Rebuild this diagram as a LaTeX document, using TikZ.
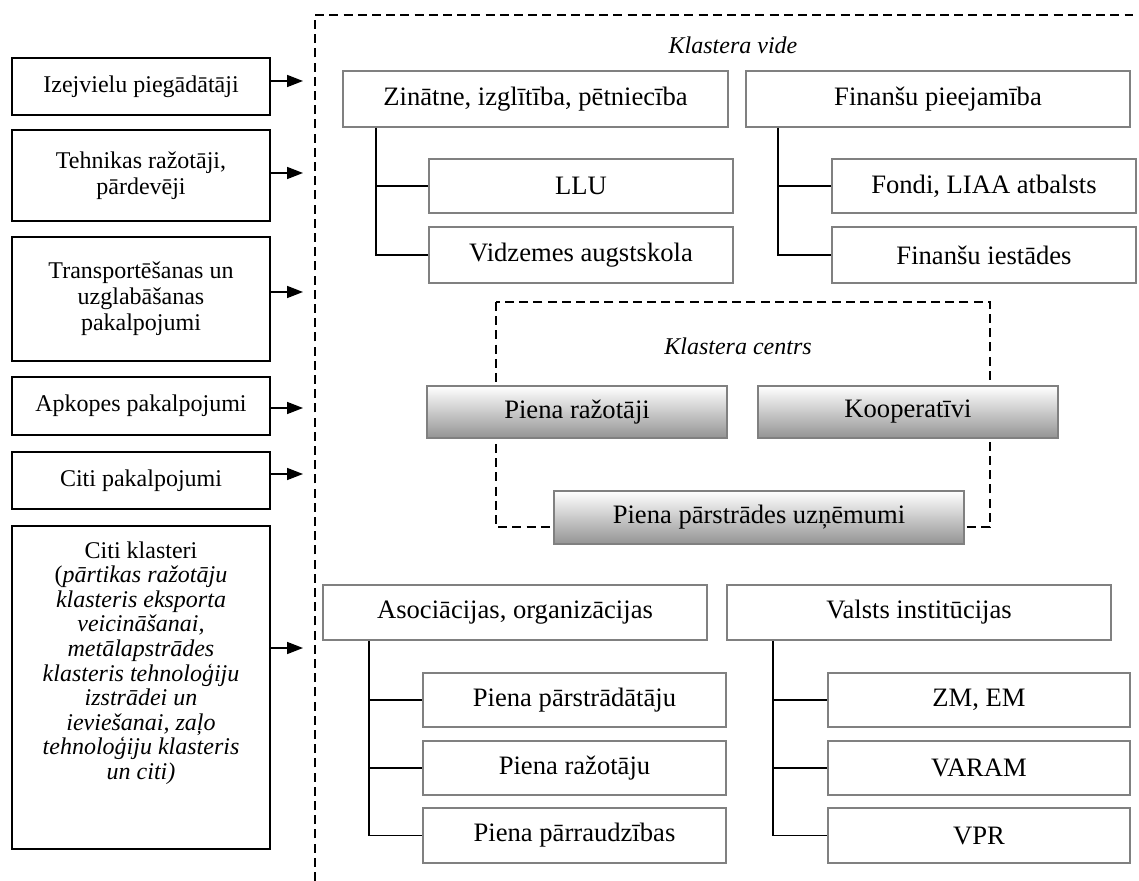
\documentclass[tikz,border=0pt]{standalone}
\usepackage{fontspec}
\setmainfont{Liberation Serif}
\usetikzlibrary{arrows.meta,calc}

\begin{document}
\begin{tikzpicture}[x=0.5pt,y=-0.5pt,
  txt/.style={font=\fontsize{12pt}{13pt}\selectfont},
  bigtxt/.style={font=\fontsize{13.3pt}{16pt}\selectfont},
  sidebox/.style={txt,draw=black,line width=0.75pt,fill=white,align=center,inner sep=2pt,minimum width=129pt},
  envbox/.style={bigtxt,draw=black!50,line width=1pt,fill=white,inner sep=2pt},
  corebox/.style={bigtxt,draw=black!50,line width=1pt,top color=white,bottom color=black!42,inner sep=2pt},
  branch/.style={draw=black,line width=0.7pt},
  feed/.style={draw=black,line width=0.8pt,-{Triangle[length=8pt,width=6pt]}},
  frame/.style={draw=black,line width=0.8pt,dash pattern=on 4.5pt off 2.6pt},
  title/.style={font=\fontsize{12pt}{15.4pt}\selectfont\itshape}]

\useasboundingbox (0,0) rectangle (1139,881);

% open outer frame of the cluster environment
\coordinate (fTL) at (315,15);
\coordinate (fTR) at (1133,15);
\coordinate (fBL) at (315,881);
\draw[frame] (fBL) -- (fTL) -- (fTR);
\node[title] (vide) at (733,45) {Klastera vide};

% suppliers and services on the left
\node[sidebox,minimum height=28.5pt] (s1) at (141,86.5) {Izejvielu piegādātāji};
\node[sidebox,minimum height=45.5pt] (s2) at (141,175.5) {Tehnikas ražotāji,\\pārdevēji};
\node[sidebox,minimum height=62pt] (s3) at (141,299) {Transportēšanas un\\uzglabāšanas\\pakalpojumi};
\node[sidebox,minimum height=29pt] (s4) at (141,406) {Apkopes pakalpojumi};
\node[sidebox,minimum height=28.5pt] (s5) at (141,480.5) {Citi pakalpojumi};
\node[sidebox,minimum height=161.5pt] (s6) at (141,687.5) {};
\node[font=\fontsize{12pt}{12.3pt}\selectfont,align=center,inner sep=0pt] (s6t) at (141,663) {Citi klasteri\\(\textit{pārtikas ražotāju}\\\textit{klasteris eksporta}\\\textit{veicināšanai,}\\\textit{metālapstrādes}\\\textit{klasteris tehnoloģiju}\\\textit{izstrādei un}\\\textit{ieviešanai, zaļo}\\\textit{tehnoloģiju klasteris}\\\textit{un citi)}};

\coordinate (a1) at (303,81);
\coordinate (a2) at (303,173);
\coordinate (a3) at (303,292);
\coordinate (a4) at (303,408);
\coordinate (a5) at (303,474);
\coordinate (a6) at (303,648);
\foreach \i in {1,...,6} \draw[feed] (s\i.east |- a\i) -- (a\i);

% science and education
\node[envbox,minimum width=192.5pt,minimum height=28pt] (zin) at (535.5,99) {Zinātne, izglītība, pētniecība};
\node[envbox,minimum width=152pt,minimum height=27pt] (llu) at (581,186) {LLU};
\node[envbox,minimum width=152pt,minimum height=28pt] (vid) at (581,255) {Vidzemes augstskola};
\coordinate (tz) at ($(zin.south west)+(34,0)$);
\draw[branch] (tz) |- (llu.west);
\draw[branch] (tz) |- (vid.west);

% access to finance
\node[envbox,minimum width=192pt,minimum height=28pt] (fin) at (938,99) {Finanšu pieejamība};
\node[envbox,minimum width=152pt,minimum height=27pt] (fon) at (984,186) {Fondi, LIAA atbalsts};
\node[envbox,minimum width=152pt,minimum height=28pt] (fie) at (984,255) {Finanšu iestādes};
\coordinate (tf) at ($(fin.south west)+(33,0)$);
\draw[branch] (tf) |- (fon.west);
\draw[branch] (tf) |- (fie.west);

% cluster core
\coordinate (cTL) at (496,302);
\coordinate (cBR) at (990,527);
\draw[frame] (cTL) rectangle (cBR);
\node[title] (centrs) at (738,346) {Klastera centrs};
\node[corebox,minimum width=150pt,minimum height=26pt] (pr) at (577,412) {Piena ražotāji};
\node[corebox,minimum width=150pt,minimum height=26pt] (koop) at (908,412) {Kooperatīvi};
\node[corebox,minimum width=205pt,minimum height=26.5pt] (pu) at (759,517.5) {Piena pārstrādes uzņēmumi};

% associations
\node[envbox,minimum width=192pt,minimum height=27.5pt] (aso) at (515,612.5) {Asociācijas, organizācijas};
\node[envbox,minimum width=151.5pt,minimum height=27pt] (ap1) at (574.5,700) {Piena pārstrādātāju};
\node[envbox,minimum width=151.5pt,minimum height=27pt] (ap2) at (574.5,768) {Piena ražotāju};
\node[envbox,minimum width=151.5pt,minimum height=27.5pt] (ap3) at (574.5,835.5) {Piena pārraudzības};
\coordinate (ta) at ($(aso.south west)+(47,0)$);
\foreach \n in {ap1,ap2,ap3} \draw[branch] (ta) |- (\n.west);

% state institutions
\node[envbox,minimum width=192pt,minimum height=27.5pt] (val) at (919,612.5) {Valsts institūcijas};
\node[envbox,minimum width=151pt,minimum height=27pt] (vi1) at (979,700) {ZM, EM};
\node[envbox,minimum width=151pt,minimum height=27pt] (vi2) at (979,768) {VARAM};
\node[envbox,minimum width=151pt,minimum height=27.5pt] (vi3) at (979,835.5) {VPR};
\coordinate (tv) at ($(val.south west)+(47,0)$);
\foreach \n in {vi1,vi2,vi3} \draw[branch] (tv) |- (\n.west);

\end{tikzpicture}
\end{document}
